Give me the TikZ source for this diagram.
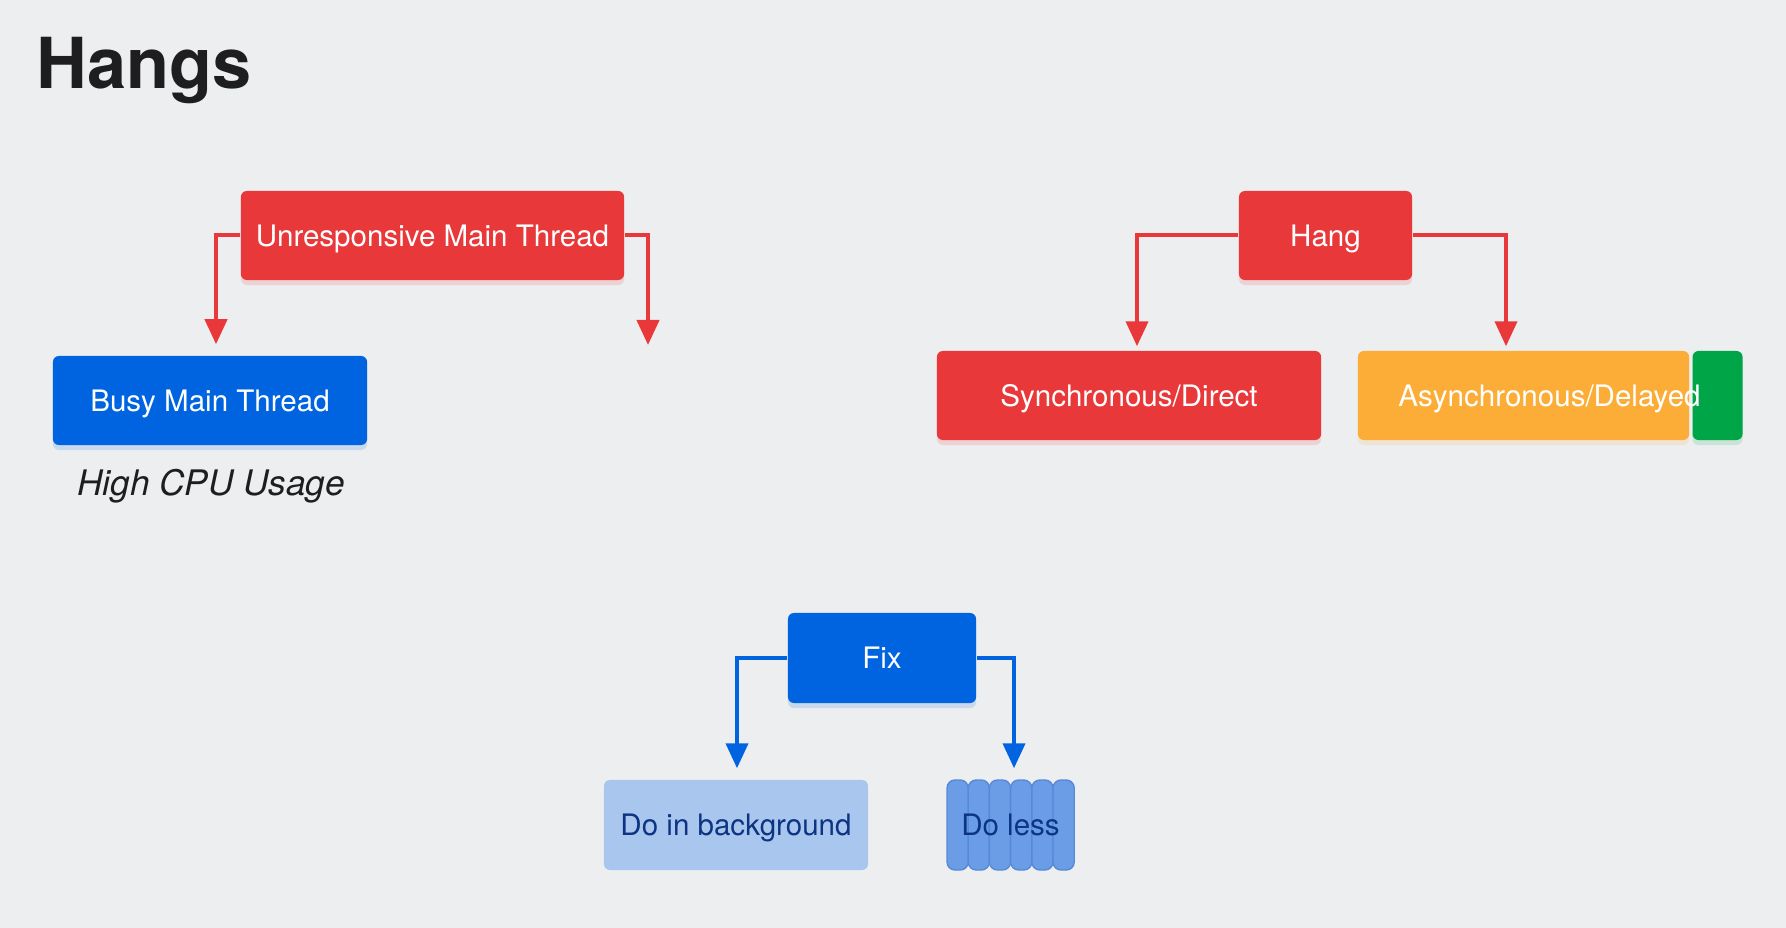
\documentclass[tikz,border=0pt]{standalone}
\usepackage{fontspec}
\setmainfont{TeX Gyre Heros}
\usetikzlibrary{arrows.meta, positioning, shadows}
\definecolor{bgGray}{RGB}{237,238,240}
\definecolor{hangRed}{RGB}{233,56,58}
\definecolor{fixBlue}{RGB}{0,100,224}
\definecolor{asyncOrange}{RGB}{251,173,55}
\definecolor{okGreen}{RGB}{0,165,72}
\definecolor{bgBlue}{RGB}{169,199,238}
\definecolor{lessBlue}{RGB}{107,157,230}
\definecolor{lessEdge}{RGB}{86,138,216}
\definecolor{inkBlue}{RGB}{12,52,130}
\definecolor{titleInk}{RGB}{30,30,32}
\tikzset{
    >={Triangle[width=0.22cm, length=0.25cm]}, % filled arrow heads
    every node/.style={font=\fontsize{8.4}{10}\selectfont}, % box text size
    box/.style={rectangle, rounded corners=0.06cm, inner sep=0pt, minimum height=0.89cm,
        text height=6pt, text depth=0pt}, % every box, capitals centred
    glow/.style={drop shadow={shadow xshift=0cm, shadow yshift=-0.05cm, opacity=0.15, fill=#1}}, % soft halo
}

\begin{document}
\begin{tikzpicture}[
                                x=0.01cm, y=-0.01cm,
                                redBox/.style={box, fill=hangRed, text=white, glow=hangRed},
                                blueBox/.style={box, fill=fixBlue, text=white, glow=fixBlue},
                                redLink/.style={->, draw=hangRed, line width=0.04cm},
                                blueLink/.style={->, draw=fixBlue, line width=0.04cm},
                            ]
                            \fill[bgGray] (0,0) rectangle (1786,928);
                            \useasboundingbox (0,0) rectangle (1786,928);
                            \node[anchor=base west, inner sep=0pt, text=titleInk, font=\fontsize{20}{24}\selectfont\bfseries] (title) at (36,89) {Hangs};

                            % main thread
                            \node[redBox, minimum width=3.83cm] (umt) at (432.5,235.5) {Unresponsive Main Thread};
                            \node[blueBox, minimum width=3.14cm] (busy) at (210,400.5) {Busy Main Thread};
                            \node[inner sep=0pt, text=titleInk, font=\fontsize{10}{12}\selectfont\itshape] (cpu) at (211,486) {High CPU Usage};
                            \coordinate (umtEnd) at (648,345);
                            \draw[redLink] (umt.west) -| ([xshift=0.06cm, yshift=0.11cm]busy.north);
                            \draw[redLink] (umt.east) -| (umtEnd);

                            % hang
                            \node[redBox, minimum width=1.73cm] (hang) at (1325.5,235.5) {Hang};
                            \node[redBox, minimum width=3.84cm] (sync) at (1129,395.5) {Synchronous/Direct};
                            \node[box, fill=asyncOrange, glow=asyncOrange, minimum width=3.31cm] (asyncBar) at (1523.5,395.5) {};
                            \node[box, fill=okGreen, glow=okGreen, minimum width=0.5cm, right=0.02cm of asyncBar] (doneBar) {};
                            \node[box, text=white, minimum width=3.83cm] (async) at (1549.5,395.5) {Asynchronous/Delayed};
                            \draw[redLink] (hang.west) -| ([xshift=0.08cm, yshift=0.04cm]sync.north);
                            \draw[redLink] (hang.east) -| ([xshift=-0.175cm, yshift=0.04cm]asyncBar.north);

                            % fix
                            \node[blueBox, minimum width=1.88cm, minimum height=0.9cm] (fix) at (882,658) {Fix};
                            \node[box, fill=bgBlue, text=inkBlue, minimum width=2.64cm, minimum height=0.9cm] (bg) at (736,825) {Do in background};
                            \foreach \i in {0,...,5}
                                \fill[lessBlue, draw=lessEdge, rounded corners=0.08cm] (947+\i*21.2,780) rectangle +(21.2,90);
                            \node[box, text=inkBlue, minimum width=1.27cm, minimum height=0.9cm] (less) at (1010.5,825) {Do less};
                            \draw[blueLink] (fix.west) -| ([xshift=0.01cm, yshift=0.11cm]bg.north);
                            \draw[blueLink] (fix.east) -| ([xshift=0.035cm, yshift=0.11cm]less.north);
                        \end{tikzpicture}
\end{document}
